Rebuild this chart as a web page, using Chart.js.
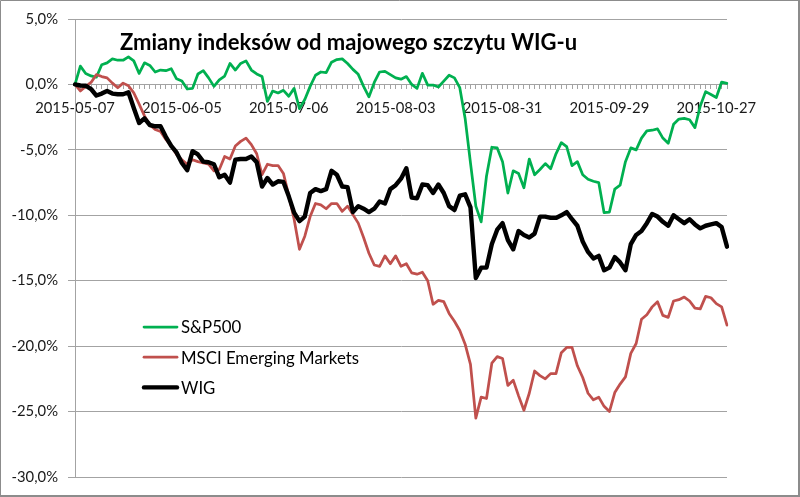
<!DOCTYPE html>
<html><head><meta charset="utf-8">
<script src="https://cdn.jsdelivr.net/npm/chart.js@4.4.1/dist/chart.umd.min.js"></script>
<style>html,body{margin:0;padding:0;background:#fff;}canvas{display:block;}</style>
</head><body>
<canvas id="c" width="800" height="497"></canvas>
<script>
const chartTitle = 'Zmiany indeksów od majowego szczytu WIG-u';
const seriesNames = ['S&P500', 'MSCI Emerging Markets', 'WIG'];

const dates = [
'2015-05-07','2015-05-08','2015-05-11','2015-05-12','2015-05-13','2015-05-14','2015-05-15','2015-05-18','2015-05-19','2015-05-20',
'2015-05-21','2015-05-22','2015-05-26','2015-05-27','2015-05-28','2015-05-29','2015-06-01','2015-06-02','2015-06-03','2015-06-04',
'2015-06-05','2015-06-08','2015-06-09','2015-06-10','2015-06-11','2015-06-12','2015-06-15','2015-06-16','2015-06-17','2015-06-18',
'2015-06-19','2015-06-22','2015-06-23','2015-06-24','2015-06-25','2015-06-26','2015-06-29','2015-06-30','2015-07-01','2015-07-02',
'2015-07-06','2015-07-07','2015-07-08','2015-07-09','2015-07-10','2015-07-13','2015-07-14','2015-07-15','2015-07-16','2015-07-17',
'2015-07-20','2015-07-21','2015-07-22','2015-07-23','2015-07-24','2015-07-27','2015-07-28','2015-07-29','2015-07-30','2015-07-31',
'2015-08-03','2015-08-04','2015-08-05','2015-08-06','2015-08-07','2015-08-10','2015-08-11','2015-08-12','2015-08-13','2015-08-14',
'2015-08-17','2015-08-18','2015-08-19','2015-08-20','2015-08-21','2015-08-24','2015-08-25','2015-08-26','2015-08-27','2015-08-28',
'2015-08-31','2015-09-01','2015-09-02','2015-09-03','2015-09-04','2015-09-08','2015-09-09','2015-09-10','2015-09-11','2015-09-14',
'2015-09-15','2015-09-16','2015-09-17','2015-09-18','2015-09-21','2015-09-22','2015-09-23','2015-09-24','2015-09-25','2015-09-28',
'2015-09-29','2015-09-30','2015-10-01','2015-10-02','2015-10-05','2015-10-06','2015-10-07','2015-10-08','2015-10-09','2015-10-12',
'2015-10-13','2015-10-14','2015-10-15','2015-10-16','2015-10-19','2015-10-20','2015-10-21','2015-10-22','2015-10-23','2015-10-26',
'2015-10-27','2015-10-28','2015-10-29'];

const tickLabels = ['2015-05-07','2015-06-05','2015-07-06','2015-08-03','2015-08-31','2015-09-29','2015-10-27'];

// values in %
const sp500 = [
0,1.4,0.84,0.65,0.55,1.5,1.65,1.95,1.85,1.85,
2.1,1.8,0.84,1.65,1.45,0.95,1.1,1.05,1.2,0.43,
0.26,-0.35,-0.3,0.8,1.05,0.5,-0.15,0.35,0.64,1.6,
1.1,1.6,1.8,1.1,0.8,0.6,-1.3,-0.5,-0.65,-0.45,
-0.9,-0.3,-1.85,-1.15,-0.15,0.7,0.95,0.9,1.7,1.9,
1.95,1.6,1.15,0.77,-0.15,-0.95,0.15,0.95,1.0,0.75,
0.5,0.4,0.6,0.0,-0.3,0.85,-0.05,-0.05,-0.2,0.25,
0.7,0.5,-0.25,-2.6,-6.0,-9.3,-10.5,-7.0,-4.8,-4.85,
-5.9,-8.3,-6.6,-6.8,-7.9,-5.7,-6.9,-6.5,-6.05,-6.45,
-5.3,-4.45,-4.75,-6.2,-5.9,-6.9,-7.25,-7.4,-7.5,-9.8,
-9.75,-8.0,-7.7,-5.9,-4.85,-5.0,-4.1,-3.55,-3.5,-3.4,
-4.1,-4.5,-3.05,-2.65,-2.6,-2.7,-3.3,-1.65,-0.55,-0.77,
-1.0,0.18,0.08];

const msci = [
0,-0.5,-0.15,0.15,0.75,0.6,0.5,0.1,-0.25,0.1,
-0.1,-0.65,-1.5,-2.4,-3.1,-3.45,-3.6,-4.2,-4.7,-5.35,
-5.75,-6.1,-5.75,-5.9,-6.0,-6.1,-6.6,-6.5,-5.5,-5.7,
-4.7,-4.35,-4.1,-4.6,-5.3,-6.9,-6.1,-6.2,-6.2,-6.8,
-8.5,-10.3,-12.6,-11.6,-10.1,-9.1,-9.2,-9.5,-9.1,-9.1,
-9.7,-9.3,-9.95,-10.6,-11.7,-12.9,-13.8,-13.9,-13.1,-13.7,
-13.1,-13.9,-13.7,-14.4,-14.5,-14.35,-15.0,-16.8,-16.5,-16.6,
-17.5,-18.1,-18.8,-19.85,-21.4,-25.5,-23.9,-24.0,-21.3,-20.8,
-20.95,-23.0,-22.6,-23.8,-24.9,-23.6,-21.9,-22.25,-22.5,-22.1,
-22.1,-20.5,-20.1,-20.1,-21.5,-22.4,-23.6,-24.1,-23.9,-24.6,
-25.0,-23.55,-22.9,-22.35,-20.55,-19.8,-17.95,-17.6,-17.0,-16.6,
-17.65,-17.8,-16.55,-16.45,-16.25,-16.55,-17.1,-17.15,-16.2,-16.3,
-16.75,-17.0,-18.4];

const wig = [
0,-0.08,-0.1,-0.35,-0.85,-0.7,-0.5,-0.7,-0.75,-0.75,
-0.6,-1.8,-2.95,-2.6,-3.1,-3.2,-3.2,-4.0,-4.7,-5.2,
-6.0,-6.55,-5.1,-5.35,-5.9,-5.95,-6.1,-7.1,-6.9,-7.5,
-5.75,-5.7,-5.7,-5.5,-5.95,-7.8,-7.15,-7.65,-7.4,-7.45,
-8.55,-9.8,-10.45,-10.1,-8.3,-8.0,-8.15,-8.0,-6.6,-6.9,
-7.8,-7.85,-9.75,-9.3,-9.5,-9.75,-9.5,-8.95,-9.1,-8.0,
-7.7,-7.2,-6.4,-8.65,-8.7,-7.65,-7.7,-8.3,-7.65,-8.3,
-9.3,-9.6,-8.5,-8.4,-9.4,-14.8,-14.0,-14.0,-12.2,-11.1,
-10.6,-11.9,-12.6,-11.2,-11.5,-11.7,-11.4,-10.1,-10.1,-10.2,
-10.2,-10.0,-9.75,-10.3,-10.8,-12.0,-12.8,-13.3,-13.1,-14.2,
-14.0,-13.2,-13.6,-14.2,-12.2,-11.5,-11.2,-10.6,-9.9,-10.1,
-10.5,-10.8,-10.0,-10.3,-10.6,-10.3,-10.7,-11.0,-10.8,-10.7,
-10.6,-10.9,-12.4];

const GRID = '#a3a3a3';
Chart.defaults.font.family = 'Lato, "Open Sans", sans-serif';

const overlay = {
  id: 'overlay',
  beforeDraw(chart) {
    const c = chart.ctx;
    c.save(); c.fillStyle = '#fff'; c.fillRect(0, 0, chart.width, chart.height); c.restore();
  },
  afterDraw(chart) {
    const c = chart.ctx;
    c.save();
    c.fillStyle = '#000';
    c.textAlign = 'left';
    c.textBaseline = 'alphabetic';
    c.font = 'bold 22px Lato';
    c.fillText(chartTitle, 120, 50);
    c.font = '16.8px Lato';
    c.textBaseline = 'middle';
    chart.data.datasets.forEach((ds, k) => {
      const y = 327 + k * 30.2;
      c.strokeStyle = ds.borderColor;
      c.lineWidth = ds.borderWidth;
      c.lineCap = 'round';
      c.beginPath(); c.moveTo(144, y); c.lineTo(177, y); c.stroke();
      c.fillStyle = '#000';
      c.fillText(ds.label, 181, y + 1);
    });
    c.strokeStyle = '#8c8c8c';
    c.lineCap = 'butt';
    c.lineWidth = 1;
    c.beginPath(); c.moveTo(0.5, 496); c.lineTo(0.5, 0.5); c.lineTo(799, 0.5); c.stroke();
    c.lineWidth = 2;
    c.beginPath(); c.moveTo(799, 0); c.lineTo(799, 496); c.lineTo(0, 496); c.stroke();
    c.restore();
  }
};

new Chart(document.getElementById('c'), {
  type: 'line',
  data: {
    labels: dates,
    datasets: [
      { label: seriesNames[0], data: sp500, borderColor: '#00b050', borderWidth: 2.75, order: 3 },
      { label: seriesNames[1], data: msci, borderColor: '#c0504d', borderWidth: 2.75, order: 2 },
      { label: seriesNames[2], data: wig, borderColor: '#000000', borderWidth: 4.4, order: 1 }
    ]
  },
  options: {
    responsive: false,
    animation: false,
    layout: { padding: { top: 19, bottom: 20, left: 0, right: 73 } },
    elements: {
      point: { radius: 0 },
      line: { tension: 0, borderCapStyle: 'round', borderJoinStyle: 'round', fill: false }
    },
    plugins: { legend: { display: false }, tooltip: { enabled: false }, title: { display: false } },
    scales: {
      x: {
        type: 'category',
        position: { y: 0 },
        offset: false,
        grid: { display: true, drawOnChartArea: false, drawTicks: true, tickLength: 4, color: GRID, lineWidth: 1 },
        border: { display: true, color: GRID, width: 1 },
        ticks: {
          autoSkip: false, maxRotation: 0, minRotation: 0, padding: 11,
          color: '#1a1a1a', font: { size: 14.8 },
          callback(v) { const l = this.getLabelForValue(v); return tickLabels.includes(l) ? l : ''; }
        },
        afterFit(s) { s.height = 0; }
      },
      y: {
        min: -30, max: 5,
        ticks: {
          stepSize: 5, padding: 10, color: '#1a1a1a', font: { size: 14.8 },
          callback: v => v.toFixed(1).replace('.', ',') + '%'
        },
        grid: { color: GRID, lineWidth: 1, tickLength: 7, drawTicks: true },
        border: { display: true, color: GRID, width: 1 },
        afterFit(s) { s.width = 75; }
      }
    }
  },
  plugins: [overlay]
});
</script>
</body></html>
